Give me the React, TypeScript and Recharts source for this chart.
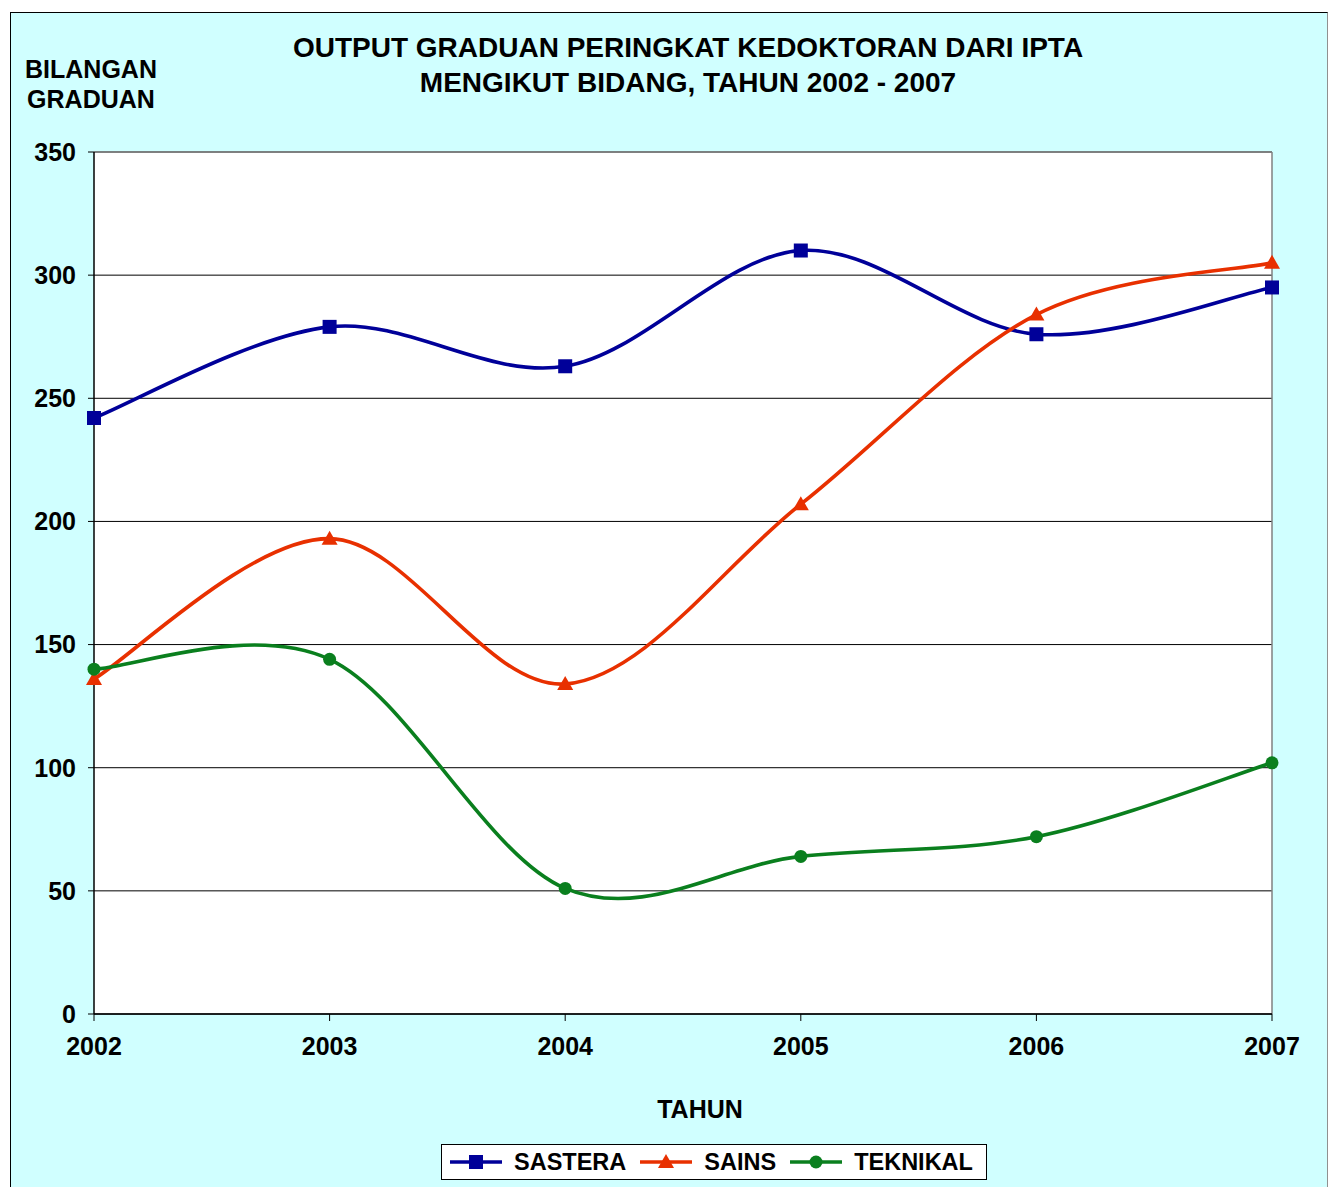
import React from 'react';
import { LineChart, Line, XAxis, YAxis, CartesianGrid, ReferenceLine } from 'recharts';

const years = ['2002', '2003', '2004', '2005', '2006', '2007'];
const sastera = [242, 279, 263, 310, 276, 295];
const sains = [136, 193, 134, 207, 284, 305];
const teknikal = [140, 144, 51, 64, 72, 102];
const yTicks = [0, 50, 100, 150, 200, 250, 300, 350];

const seriesNames = ['SASTERA', 'SAINS', 'TEKNIKAL'];
const seriesColors = ['#000099', '#E83000', '#0A7F1E'];
const seriesKeys = ['sastera', 'sains', 'teknikal'];

const data = years.map((y, i) => ({
  year: y,
  sastera: sastera[i],
  sains: sains[i],
  teknikal: teknikal[i],
}));

const FONT = '"Liberation Sans", Arial, sans-serif';

// Excel-like smooth curve (Catmull-Rom as cubic Bezier)
const smoothCurve: any = (context: any) => {
  let xs: number[] = [];
  let ys: number[] = [];
  return {
    areaStart() {},
    areaEnd() {},
    lineStart() {
      xs = [];
      ys = [];
    },
    point(x: number, y: number) {
      xs.push(+x);
      ys.push(+y);
    },
    lineEnd() {
      const n = xs.length;
      if (!n) return;
      context.moveTo(xs[0], ys[0]);
      for (let i = 0; i < n - 1; i++) {
        const ip = Math.max(i - 1, 0);
        const in2 = Math.min(i + 2, n - 1);
        const c1x = xs[i] + (xs[i + 1] - xs[ip]) / 6;
        const c1y = ys[i] + (ys[i + 1] - ys[ip]) / 6;
        const c2x = xs[i + 1] - (xs[in2] - xs[i]) / 6;
        const c2y = ys[i + 1] - (ys[in2] - ys[i]) / 6;
        context.bezierCurveTo(c1x, c1y, c2x, c2y, xs[i + 1], ys[i + 1]);
      }
    },
  };
};

const Marker = ({ kind, cx, cy, color }: { kind: number; cx: number; cy: number; color: string }) => {
  if (kind === 0) return <rect x={cx - 7} y={cy - 7} width={14} height={14} fill={color} />;
  if (kind === 1)
    return <polygon points={`${cx},${cy - 8} ${cx + 8},${cy + 6} ${cx - 8},${cy + 6}`} fill={color} />;
  return <circle cx={cx} cy={cy} r={6.5} fill={color} />;
};

const makeDot = (kind: number, color: string) => (props: any) => {
  const { cx, cy, index } = props;
  if (cx == null || cy == null) return <g key={`d${kind}-${index}`} />;
  return (
    <g key={`d${kind}-${index}`}>
      <Marker kind={kind} cx={cx} cy={cy} color={color} />
    </g>
  );
};

const tickStyle = { fontFamily: FONT, fontSize: 25, fontWeight: 700, fill: '#000' };

export default function App() {
  return (
    <div
      style={{
        position: 'absolute',
        left: 10,
        top: 12,
        width: 1318,
        height: 1180,
        background: '#D0FFFF',
        border: '1px solid #000',
        borderRight: '1px solid #909090',
        boxSizing: 'border-box',
        fontFamily: FONT,
        color: '#000',
      }}
    >
      <div
        style={{
          position: 'absolute',
          left: 677,
          top: 17,
          transform: 'translateX(-50%)',
          whiteSpace: 'nowrap',
          textAlign: 'center',
          fontSize: 28,
          fontWeight: 700,
          lineHeight: '35px',
        }}
      >
        <div>OUTPUT GRADUAN PERINGKAT KEDOKTORAN DARI IPTA</div>
        <div>MENGIKUT BIDANG, TAHUN 2002 - 2007</div>
      </div>
      <div
        style={{
          position: 'absolute',
          left: 80,
          top: 41,
          transform: 'translateX(-50%)',
          whiteSpace: 'nowrap',
          textAlign: 'center',
          fontSize: 25,
          fontWeight: 700,
          lineHeight: '30px',
        }}
      >
        <div>BILANGAN</div>
        <div>GRADUAN</div>
      </div>
      <div
        style={{
          position: 'absolute',
          left: 689,
          top: 1081,
          transform: 'translateX(-50%)',
          whiteSpace: 'nowrap',
          fontSize: 25,
          fontWeight: 700,
          lineHeight: '30px',
        }}
      >
        TAHUN
      </div>
      <div style={{ position: 'absolute', left: 0, top: 0 }}>
        <LineChart width={1316} height={1176} data={data} margin={{ top: 139, right: 55, left: 23, bottom: 135 }}>
          <CartesianGrid vertical={false} stroke="#000" strokeWidth={1} fill="#fff" />
          <XAxis
            dataKey="year"
            padding={{ left: 0, right: 0 }}
            tick={tickStyle}
            tickSize={7}
            tickMargin={16}
            height={40}
            axisLine={{ stroke: '#000', strokeWidth: 1.5 }}
            tickLine={{ stroke: '#000' }}
            interval={0}
          />
          <YAxis
            domain={[0, 350]}
            ticks={yTicks}
            tick={tickStyle}
            tickSize={6}
            tickMargin={12}
            width={60}
            axisLine={{ stroke: '#000', strokeWidth: 1.5 }}
            tickLine={{ stroke: '#000' }}
            allowDataOverflow
          />
          <ReferenceLine y={350} stroke="#808080" strokeWidth={1.5} />
          <ReferenceLine x="2007" stroke="#808080" strokeWidth={1.5} />
          {seriesKeys.map((k, i) => (
            <Line
              key={k}
              dataKey={k}
              name={seriesNames[i]}
              type={smoothCurve}
              stroke={seriesColors[i]}
              strokeWidth={3.6}
              dot={makeDot(i, seriesColors[i])}
              activeDot={false}
              isAnimationActive={false}
            />
          ))}
        </LineChart>
      </div>
      <div
        style={{
          position: 'absolute',
          left: 430,
          top: 1131,
          width: 546,
          height: 36,
          boxSizing: 'border-box',
          border: '1px solid #000',
          background: '#fff',
          display: 'flex',
          alignItems: 'center',
          paddingLeft: 8,
          whiteSpace: 'nowrap',
          fontSize: 23.5,
          fontWeight: 700,
        }}
      >
        {seriesNames.map((n, i) => (
          <React.Fragment key={n}>
            <svg width={52} height={20} style={{ marginRight: 12, marginLeft: i === 0 ? 0 : 14, display: 'block' }}>
              <line x1={0} y1={10} x2={52} y2={10} stroke={seriesColors[i]} strokeWidth={3.6} />
              <Marker kind={i} cx={26} cy={10} color={seriesColors[i]} />
            </svg>
            <span>{n}</span>
          </React.Fragment>
        ))}
      </div>
    </div>
  );
}
